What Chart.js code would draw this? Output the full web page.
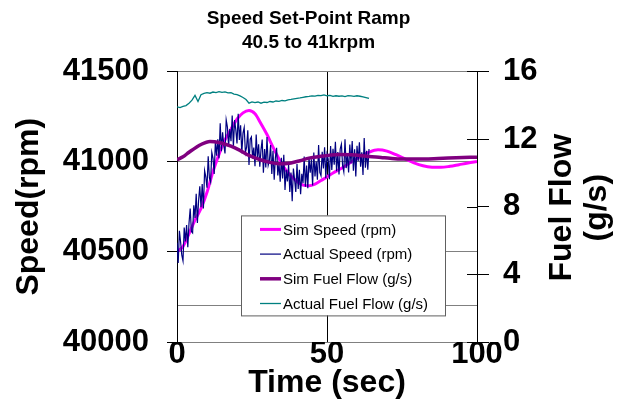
<!DOCTYPE html>
<html><head><meta charset="utf-8">
<script src="https://cdn.jsdelivr.net/npm/chart.js@4.4.0/dist/chart.umd.min.js"></script>
<style>html,body{margin:0;padding:0;background:#fff;}canvas{display:block;}</style>
</head><body>
<canvas id="c" width="617" height="403"></canvas>
<script>
const titleLines = ['Speed Set-Point Ramp', '40.5 to 41krpm'];
const xTitle = 'Time (sec)';
const leftTitle = 'Speed(rpm)';
const rightTitleLines = ['Fuel Flow', '(g/s)'];
const seriesNames = ['Sim Speed (rpm)', 'Actual Speed (rpm)', 'Sim Fuel Flow (g/s)', 'Actual Fuel Flow (g/s)'];
const seriesColors = ['#FF00FF', '#000080', '#800080', '#008080'];
const speedTicks = [40000, 40500, 41000, 41500];
const speedExtraGrid = [40200];
const fuelTicks = [0, 4, 8, 12, 16];
const timeTicks = [0, 50, 100];

const simSpeedTime = [0,2,4,6,8,10,12,14,16,18,20,22,24,26,28,30,32,34,36,38,40,42,44,46,48,50,52,55,58,61,64,67,70,73,76,79,82,85,88,91,94,97,100];
const simSpeedRpm = [40500,40530,40600,40675,40740,40830,40945,41040,41120,41180,41235,41270,41283,41265,41210,41150,41080,41015,40960,40920,40890,40870,40866,40875,40895,40915,40937,40965,40997,41027,41052,41065,41058,41038,41015,40993,40977,40969,40968,40974,40983,40992,41000];

const actualSpeedTime = [0,0.4,0.8,1.2,1.6,2,2.4,2.8,3.2,3.6,4,4.4,4.8,5.2,5.6,6,6.4,6.8,7.2,7.6,8,8.4,8.8,9.2,9.6,10,10.4,10.8,11.2,11.6,12,12.4,12.8,13.2,13.6,14,14.4,14.8,15.2,15.6,16,16.4,16.8,17.2,17.6,18,18.4,18.8,19.2,19.6,20,20.4,20.8,21.2,21.6,22,22.4,22.8,23.2,23.6,24,24.4,24.8,25.2,25.6,26,26.4,26.8,27.2,27.6,28,28.4,28.8,29.2,29.6,30,30.4,30.8,31.2,31.6,32,32.4,32.8,33.2,33.6,34,34.4,34.8,35.2,35.6,36,36.4,36.8,37.2,37.6,38,38.4,38.8,39.2,39.6,40,40.4,40.8,41.2,41.6,42,42.4,42.8,43.2,43.6,44,44.4,44.8,45.2,45.6,46,46.4,46.8,47.2,47.6,48,48.4,48.8,49.2,49.6,50,50.4,50.8,51.2,51.6,52,52.4,52.8,53.2,53.6,54,54.4,54.8,55.2,55.6,56,56.4,56.8,57.2,57.6,58,58.4,58.8,59.2,59.6,60,60.4,60.8,61.2,61.6,62,62.4,62.8,63.2,63.6,64];
const actualSpeedRpm = [40550,40438,40616,40554,40482,40450,40634,40558,40649,40526,40658,40740,40612,40604,40758,40687,40821,40660,40784,40863,40747,40876,40740,40950,40915,40855,41030,40910,40888,41051,41019,40932,41115,41033,41123,41018,41213,41058,41163,41089,41045,41231,41192,41087,41180,41113,41255,41083,41230,41177,41100,41265,41120,41201,41047,41158,41189,41050,41080,41173,40981,41124,41137,41018,41078,40974,41150,41020,41096,40972,41065,41122,40939,41070,40968,41136,40979,41006,41092,40931,41060,40899,41023,41076,40923,40991,40888,41021,40907,41038,40843,40954,40890,40982,40831,40940,40780,40961,40901,40832,40987,40848,40954,40819,40932,40880,41028,40861,40978,40853,41023,40938,41013,40867,41050,40918,41001,40899,41092,40940,40922,41055,40962,41080,40908,41041,41014,40902,41086,40954,41071,40983,41110,40947,41053,40929,41070,41096,40977,40943,41124,40964,41045,40940,41095,40989,41114,40949,41068,40918,41088,41002,41107,40972,41051,40926,41131,40966,41060,40955,41070];

const simFuelTime = [0,2,4,8,11,14,18,21,24,28,31,34,38,41,44,48,51,54,58,61,64,68,71,75,80,87,93,100];
const simFuelGs = [10.78,10.95,11.22,11.68,11.86,11.80,11.58,11.33,11.03,10.76,10.62,10.54,10.59,10.72,10.87,10.98,11.05,11.09,11.07,11.03,10.97,10.91,10.86,10.82,10.82,10.85,10.89,10.93];

const actualFuelTime = [0,1,2,3,4,5,6,7,8,9,10,11,12,13,14,15,16,17,18,19,20,21,22,23,24,25,26,27,28,29,30,31,32,33,34,35,36,37,38,39,40,41,42,43,44,45,46,47,48,49,50,51,52,53,54,55,56,57,58,59,60,61,62,63,64];
const actualFuelGs = [13.90,13.86,13.93,13.98,14.12,14.30,14.58,14.22,14.62,14.70,14.74,14.71,14.78,14.75,14.80,14.76,14.79,14.73,14.74,14.66,14.62,14.55,14.46,14.34,14.12,14.20,14.15,14.19,14.12,14.18,14.16,14.22,14.19,14.25,14.23,14.28,14.26,14.32,14.34,14.37,14.40,14.43,14.47,14.50,14.52,14.55,14.54,14.58,14.57,14.61,14.56,14.58,14.52,14.56,14.53,14.55,14.51,14.57,14.55,14.52,14.56,14.53,14.49,14.45,14.40];

const zip = (xs, ys) => xs.map((x, i) => ({x: x, y: ys[i]}));
const FONT = "'Liberation Sans', Arial, sans-serif";

const overlayPlugin = {
  id: 'overlay',
  afterDatasetsDraw(chart) {
    const ctx = chart.ctx, ca = chart.chartArea;
    const bx = ca.left + 64, by = ca.top + 144, bw = 204, bh = 100;
    ctx.save();
    ctx.fillStyle = '#fff';
    ctx.fillRect(bx, by, bw, bh);
    ctx.strokeStyle = '#606060';
    ctx.lineWidth = 1;
    ctx.strokeRect(bx + 0.5, by + 0.5, bw, bh);
    ctx.font = '15px ' + FONT;
    ctx.textBaseline = 'middle';
    ctx.textAlign = 'left';
    chart.data.datasets.forEach((ds, i) => {
      const y = by + 14 + i * 24.7;
      ctx.strokeStyle = ds.borderColor;
      ctx.lineWidth = ds.borderWidth;
      ctx.beginPath();
      ctx.moveTo(bx + 19, y);
      ctx.lineTo(bx + 40, y);
      ctx.stroke();
      ctx.fillStyle = '#000';
      ctx.fillText(ds.label, bx + 42, y + 1);
    });
    ctx.restore();
  },
  afterDraw(chart) {
    const ctx = chart.ctx, ca = chart.chartArea;
    const y1 = chart.scales.y1;
    ctx.save();
    ctx.strokeStyle = '#000';
    ctx.lineWidth = 1;
    y1.ticks.forEach(t => {
      const py = Math.round(y1.getPixelForValue(t.value)) + 0.5;
      ctx.beginPath();
      ctx.moveTo(ca.right - 10, py);
      ctx.lineTo(ca.right, py);
      ctx.stroke();
    });
    ctx.fillStyle = '#000';
    ctx.font = 'bold 32px ' + FONT;
    ctx.textAlign = 'center';
    ctx.textBaseline = 'middle';
    const cy = (ca.top + ca.bottom) / 2 + 1;
    rightTitleLines.forEach((line, i) => {
      ctx.save();
      ctx.translate(ca.right + 85 + i * 35, cy);
      ctx.rotate(-Math.PI / 2);
      ctx.fillText(line, 0, 0);
      ctx.restore();
    });
    ctx.restore();
  }
};

new Chart(document.getElementById('c'), {
  type: 'line',
  data: {
    datasets: [
      {label: seriesNames[0], data: zip(simSpeedTime, simSpeedRpm), borderColor: seriesColors[0], borderWidth: 3, yAxisID: 'y', order: 4, cubicInterpolationMode: 'monotone'},
      {label: seriesNames[1], data: zip(actualSpeedTime, actualSpeedRpm), borderColor: seriesColors[1], borderWidth: 1.2, yAxisID: 'y', order: 3},
      {label: seriesNames[2], data: zip(simFuelTime, simFuelGs), borderColor: seriesColors[2], borderWidth: 3.5, yAxisID: 'y1', order: 2, cubicInterpolationMode: 'monotone'},
      {label: seriesNames[3], data: zip(actualFuelTime, actualFuelGs), borderColor: seriesColors[3], borderWidth: 1.3, yAxisID: 'y1', order: 1}
    ]
  },
  options: {
    responsive: false,
    animation: false,
    layout: {padding: 0},
    elements: {point: {radius: 0}, line: {fill: false}},
    plugins: {
      legend: {display: false},
      tooltip: {enabled: false},
      title: {
        display: true,
        text: titleLines,
        color: '#000',
        font: {family: FONT, size: 19, weight: 'bold', lineHeight: 1.3},
        padding: {top: 6, bottom: 16}
      }
    },
    scales: {
      x: {
        type: 'linear', min: 0, max: 100,
        afterBuildTicks: s => { s.ticks = timeTicks.map(v => ({value: v})); },
        afterFit: s => { s.height = 61; },
        ticks: {autoSkip: false, maxRotation: 0, color: '#000', padding: 0,
          font: {family: FONT, size: 31, weight: 'bold', lineHeight: 0.8},
          callback: v => String(v)},
        grid: {drawTicks: false, color: c => (c.tick && c.tick.value === 50) ? '#000' : 'rgba(0,0,0,0)'},
        border: {color: '#808080'},
        title: {display: true, text: xTitle, color: '#000',
          font: {family: FONT, size: 32, weight: 'bold', lineHeight: 1.2}, padding: {top: 0, bottom: 1}}
      },
      y: {
        position: 'left', min: 40000, max: 41500,
        afterBuildTicks: s => { s.ticks = speedTicks.concat(speedExtraGrid).sort((a, b) => a - b).map(v => ({value: v})); },
        afterFit: s => { s.width = 177; },
        ticks: {autoSkip: false, color: '#000', padding: 18,
          font: {family: FONT, size: 31, weight: 'bold'},
          callback: v => speedTicks.includes(v) ? String(v) : ''},
        grid: {color: '#808080', tickLength: 10,
          tickColor: c => (c.tick && speedExtraGrid.includes(c.tick.value)) ? 'rgba(0,0,0,0)' : '#000'},
        border: {color: '#000'},
        title: {display: true, text: leftTitle, color: '#000',
          font: {family: FONT, size: 32, weight: 'bold', lineHeight: 1.2}, padding: {top: 10, bottom: 0}}
      },
      y1: {
        position: 'right', min: 0, max: 16,
        afterBuildTicks: s => { s.ticks = fuelTicks.map(v => ({value: v})); },
        afterFit: s => { s.width = 140; },
        ticks: {autoSkip: false, color: '#000', padding: 14,
          font: {family: FONT, size: 31, weight: 'bold'},
          callback: v => String(v)},
        grid: {drawOnChartArea: false, tickLength: 12, tickColor: '#000'},
        border: {color: '#000'}
      }
    }
  },
  plugins: [overlayPlugin]
});
</script>
</body></html>
